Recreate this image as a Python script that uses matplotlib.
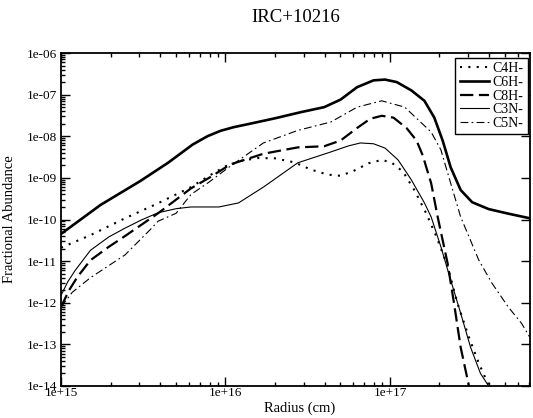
import math
import matplotlib
matplotlib.use("Agg")
import matplotlib.pyplot as plt
from matplotlib.ticker import LogLocator, FuncFormatter, NullFormatter

plt.rcParams['font.family'] = ['Liberation Serif', 'DejaVu Serif']

# ---- data (radius in cm, fractional abundance) ----
r_c4h = [1.0e15, 1.51e15, 2.45e15, 3.89e15, 6.17e15, 7.94e15, 1.0e16, 1.26e16, 1.58e16,
         2.0e16, 2.63e16, 3.31e16, 4.17e16, 5.01e16, 6.03e16, 7.41e16, 8.91e16, 1.02e17,
         1.20e17, 1.41e17, 1.66e17, 1.91e17, 2.24e17, 2.57e17, 3.02e17, 3.47e17, 3.98e17, 4.27e17]
a_c4h = [2.1e-11, 4.2e-11, 1.07e-10, 2.45e-10, 6.0e-10, 1.12e-09, 1.9e-09, 2.6e-09, 3.0e-09,
         2.95e-09, 2.35e-09, 1.58e-09, 1.2e-09, 1.12e-09, 1.48e-09, 2.24e-09, 2.7e-09, 2.35e-09,
         1.41e-09, 5.0e-10, 1.41e-10, 4.0e-11, 7.6e-12, 9.8e-13, 1.48e-13, 3.5e-14, 1.05e-14, 5.0e-15]

r_c6h = [1.0e15, 1.74e15, 3.02e15, 4.47e15, 6.31e15, 7.76e15, 9.33e15, 1.12e16, 1.41e16,
         2.0e16, 2.88e16, 3.98e16, 5.01e16, 6.31e16, 7.94e16, 9.33e16, 1.10e17, 1.35e17,
         1.62e17, 1.86e17, 2.09e17, 2.34e17, 2.69e17, 3.16e17, 3.98e17, 5.25e17, 7.08e17]
a_c6h = [4.5e-11, 2.24e-10, 8.3e-10, 2.3e-09, 6.3e-09, 1.0e-08, 1.35e-08, 1.65e-08, 2.0e-08,
         2.7e-08, 3.8e-08, 5.0e-08, 7.6e-08, 1.51e-07, 2.2e-07, 2.3e-07, 2.0e-07, 1.26e-07,
         7.1e-08, 2.8e-08, 7.9e-09, 1.78e-09, 5.1e-10, 2.6e-10, 1.78e-10, 1.38e-10, 1.07e-10]

r_c8h = [1.0e15, 1.12e15, 1.26e15, 1.51e15, 1.95e15, 2.45e15, 3.89e15, 6.17e15, 7.94e15,
         1.07e16, 1.70e16, 2.75e16, 3.98e16, 5.01e16, 6.31e16, 7.59e16, 8.91e16, 1.05e17,
         1.26e17, 1.45e17, 1.58e17, 1.78e17, 1.95e17, 2.24e17, 2.45e17, 2.69e17, 3.02e17, 3.16e17]
a_c8h = [7.9e-13, 2.0e-12, 4.2e-12, 1.05e-11, 2.2e-11, 4.0e-11, 1.41e-10, 5.6e-10, 1.0e-09,
         2.1e-09, 3.8e-09, 5.4e-09, 5.75e-09, 7.9e-09, 1.58e-08, 2.63e-08, 3.1e-08, 2.8e-08,
         1.58e-08, 7.9e-09, 3.5e-09, 7.4e-10, 1.15e-10, 8.9e-12, 9.8e-13, 8.5e-14, 1.0e-14, 4.0e-15]

r_c3n = [1.0e15, 1.10e15, 1.22e15, 1.51e15, 1.95e15, 2.45e15, 3.09e15, 3.89e15, 5.01e15,
         6.17e15, 9.12e15, 1.20e16, 1.70e16, 2.75e16, 4.37e16, 5.62e16, 6.61e16, 7.94e16,
         9.33e16, 1.12e17, 1.35e17, 1.62e17, 1.78e17, 2.04e17, 2.34e17, 2.69e17, 3.09e17,
         3.55e17, 3.98e17, 4.17e17]
a_c3n = [1.5e-12, 3.2e-12, 6.0e-12, 1.82e-11, 3.8e-11, 6.2e-11, 9.8e-11, 1.45e-10, 1.82e-10,
         2.0e-10, 2.0e-10, 2.5e-10, 6.0e-10, 2.3e-09, 4.2e-09, 5.9e-09, 6.9e-09, 6.6e-09,
         5.2e-09, 2.7e-09, 8.9e-10, 2.5e-10, 1.15e-10, 2.2e-11, 3.5e-12, 5.6e-13, 8.5e-14,
         2.0e-14, 1.0e-14, 6.3e-15]

r_c5n = [1.0e15, 1.17e15, 1.51e15, 2.45e15, 3.47e15, 3.89e15, 5.01e15, 6.17e15, 7.94e15,
         1.07e16, 1.70e16, 2.75e16, 4.37e16, 6.31e16, 8.91e16, 1.23e17, 1.78e17, 2.04e17,
         2.34e17, 2.69e17, 3.47e17, 4.17e17, 5.25e17, 6.31e17, 7.08e17]
a_c5n = [7.9e-13, 1.78e-12, 4.0e-12, 1.41e-11, 5.6e-11, 9.1e-11, 1.41e-10, 4.0e-10, 7.9e-10,
         1.91e-09, 6.9e-09, 1.38e-08, 2.2e-08, 5.0e-08, 7.1e-08, 5.0e-08, 1.26e-08, 4.7e-09,
         7.4e-10, 1.15e-10, 1.05e-11, 2.95e-12, 7.8e-13, 3.2e-13, 1.48e-13]

labels = ["C4H-", "C6H-", "C8H-", "C3N-", "C5N-"]
title = "IRC+10216"
xlabel = "Radius (cm)"
ylabel = "Fractional Abundance"

W, H = 533, 418
fig = plt.figure(figsize=(W / 100, H / 100), dpi=100)
L, R, T, B = 61, 530, 53, 386
ax = fig.add_axes([L / W, 1 - B / H, (R - L) / W, (B - T) / H])

ax.plot(r_c4h, a_c4h, color='black', lw=1.5, linestyle=(0, (1, 3)), label=labels[0])
ax.plot(r_c6h, a_c6h, color='black', lw=1.9, linestyle='-', label=labels[1])
ax.plot(r_c8h, a_c8h, color='black', lw=1.6, linestyle=(0, (6, 2.5)), label=labels[2])
ax.plot(r_c3n, a_c3n, color='black', lw=0.8, linestyle='-', label=labels[3])
ax.plot(r_c5n, a_c5n, color='black', lw=0.8, linestyle=(0, (7, 3, 1.5, 3)), label=labels[4])

ax.set_xscale('log')
ax.set_yscale('log')
ax.set_xlim(1e15, 7.1e17)
ax.set_ylim(1e-14, 1e-6)

fmt = FuncFormatter(lambda v, p: "1e%+03d" % round(math.log10(v)))
ax.xaxis.set_major_locator(LogLocator(base=10, numticks=20))
ax.yaxis.set_major_locator(LogLocator(base=10, numticks=20))
ax.xaxis.set_minor_locator(LogLocator(base=10, subs=range(2, 10), numticks=50))
ax.yaxis.set_minor_locator(LogLocator(base=10, subs=range(2, 10), numticks=50))
ax.xaxis.set_major_formatter(fmt)
ax.yaxis.set_major_formatter(fmt)
ax.xaxis.set_minor_formatter(NullFormatter())
ax.yaxis.set_minor_formatter(NullFormatter())

ax.tick_params(which='both', direction='in', top=True, right=True, labelsize=9.5, width=1.0)
ax.tick_params(which='major', length=6.5)
ax.tick_params(which='minor', length=3)
ax.tick_params(axis='y', which='major', pad=3)
ax.tick_params(axis='x', which='major', pad=1)
ax.tick_params(axis='y', which='minor', right=False)
for s in ax.spines.values():
    s.set_linewidth(1.3)

fig.text(300 / W, 1 - 408 / H, xlabel, ha='center', va='center', fontsize=10.5)
fig.text(10 / W, 1 - 219 / H, ylabel, ha='center', va='center', rotation=90, fontsize=10.5)
fig.text(295.5 / W, 1 - 18 / H, title, ha='center', va='center', fontsize=13.5)

leg = ax.legend(loc='upper right', bbox_to_anchor=(528 / W, 1 - 58 / H),
                bbox_transform=fig.transFigure, borderaxespad=0, fontsize=10,
                handlelength=2.1, handletextpad=0.3, labelspacing=0.05,
                borderpad=0.3, fancybox=False, framealpha=1, edgecolor='black')
leg.get_frame().set_linewidth(1.0)

fig.savefig("out.png", dpi=100)
